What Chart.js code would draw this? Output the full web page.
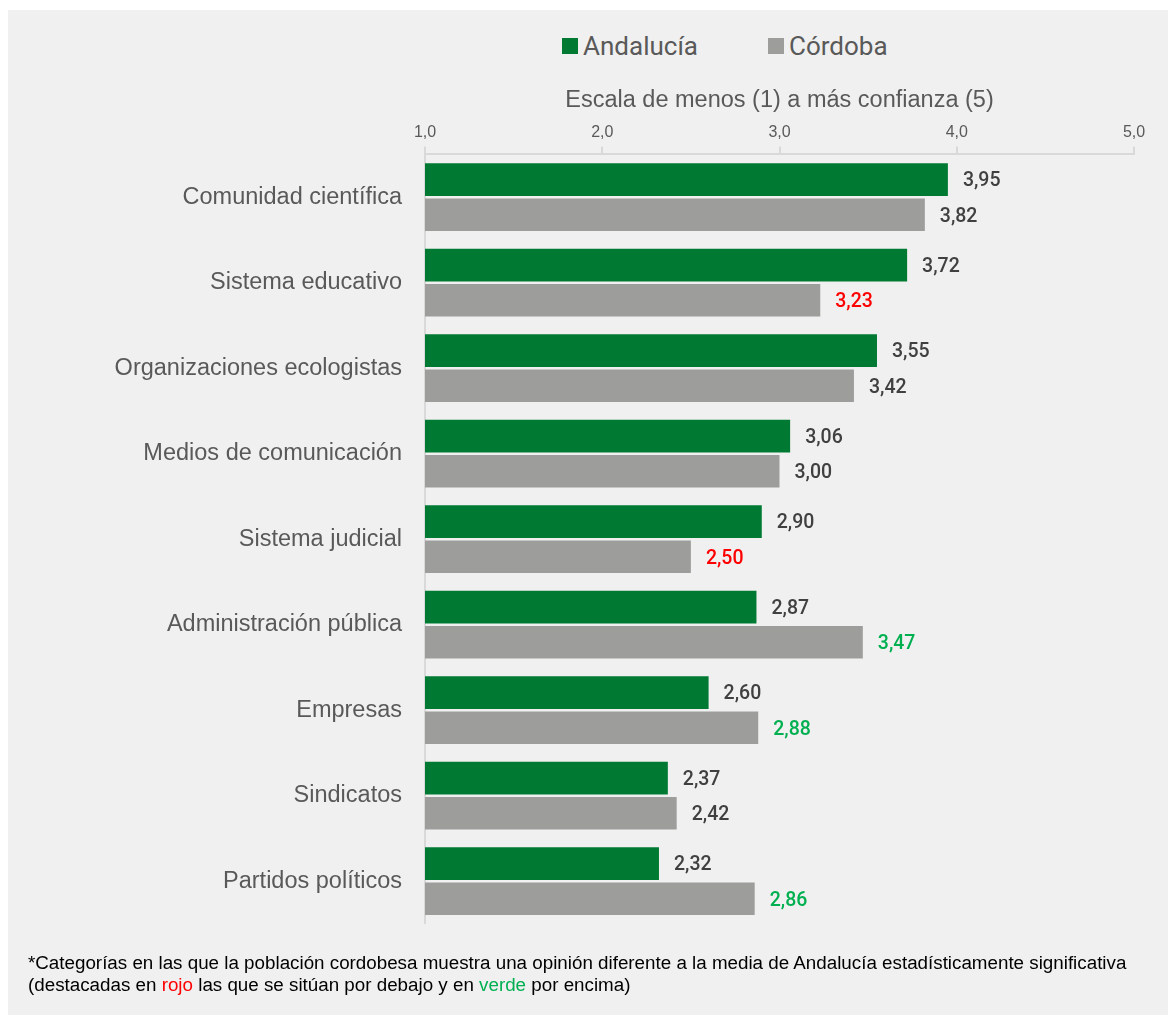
<!DOCTYPE html>
<html>
<head>
<meta charset="utf-8">
<script src="https://cdn.jsdelivr.net/npm/chart.js@4"></script>
<style>
  body { margin: 0; background: #fff; font-family: Roboto, sans-serif; }
  #panel { position: absolute; left: 8px; top: 10px; width: 1160px; height: 1005px; background: #f0f0f0; }
  #chartBox { position: absolute; left: 0; top: 0; width: 1160px; height: 943px; }
  .legend { position: absolute; top: 21px; left: 554px; display: flex; gap: 70px; font-size: 26px; color: #595959; }
  .legend-item { display: flex; align-items: center; }
  .legend-color { display: inline-block; width: 16px; height: 16px; margin-right: 5px; }
  .note { position: absolute; left: 20px; top: 942px; font-family: "Liberation Sans Narrow", sans-serif; font-size: 18.8px; line-height: 22px; color: #000; }
  .rojo { color: #ff0000; }
  .verde { color: #00b050; }
</style>
</head>
<body>
<div id="panel">
  <div class="legend" id="legend"></div>
  <div id="chartBox"><canvas id="trustChart"></canvas></div>
  <div class="note">*Categorías en las que la población cordobesa muestra una opinión diferente a la media de Andalucía estadísticamente significativa<br>(destacadas en <span class="rojo">rojo</span> las que se sitúan por debajo y en <span class="verde">verde</span> por encima)</div>
</div>
<script>
const categories = [
  'Comunidad científica', 'Sistema educativo', 'Organizaciones ecologistas',
  'Medios de comunicación', 'Sistema judicial', 'Administración pública',
  'Empresas', 'Sindicatos', 'Partidos políticos'
];
const seriesNames = ['Andalucía', 'Córdoba'];
const andalucia = [3.95, 3.72, 3.55, 3.06, 2.90, 2.87, 2.60, 2.37, 2.32];
const cordoba = [3.82, 3.23, 3.42, 3.00, 2.50, 3.47, 2.88, 2.42, 2.86];
// -1 = significativamente por debajo, 1 = por encima, 0 = sin diferencia
const cordobaSignif = [0, -1, 0, 0, -1, 1, 1, 0, 1];
const xTicks = [1, 2, 3, 4, 5];
const axisTitle = 'Escala de menos (1) a más confianza (5)';

const colors = ['#007a33', '#9d9d9b'];
const textColor = '#595959';

document.getElementById('legend').innerHTML = seriesNames.map((name, i) =>
  `<span class="legend-item"><span class="legend-color" style="background:${colors[i]};"></span>${name}</span>`
).join('');

const fmt = v => v.toFixed(2).replace('.', ',');

// value labels at the end of each bar
const valueLabels = {
  id: 'valueLabels',
  afterDatasetsDraw(chart) {
    const ctx = chart.ctx;
    ctx.save();
    ctx.font = '500 19.5px Roboto';
    ctx.textBaseline = 'middle';
    ctx.textAlign = 'left';
    chart.data.datasets.forEach((ds, di) => {
      chart.getDatasetMeta(di).data.forEach((bar, i) => {
        let c = '#404040';
        if (di === 1 && cordobaSignif[i] === -1) c = '#ff0000';
        if (di === 1 && cordobaSignif[i] === 1) c = '#00b050';
        ctx.fillStyle = c;
        ctx.fillText(fmt(ds.data[i]), bar.x + 15, bar.y + 2);
      });
    });
    ctx.restore();
  }
};

new Chart(document.getElementById('trustChart'), {
  type: 'bar',
  data: {
    labels: categories,
    datasets: [
      { label: seriesNames[0], data: andalucia, backgroundColor: colors[0] },
      { label: seriesNames[1], data: cordoba, backgroundColor: colors[1] }
    ]
  },
  options: {
    indexAxis: 'y',
    responsive: true,
    maintainAspectRatio: false,
    animation: false,
    categoryPercentage: 0.82,
    barPercentage: 0.93,
    layout: { padding: { top: 76, right: 34, bottom: 8, left: 0 } },
    plugins: {
      legend: { display: false },
      tooltip: { enabled: false }
    },
    scales: {
      x: {
        position: 'top',
        min: 1,
        max: 5,
        afterBuildTicks: axis => { axis.ticks = xTicks.map(v => ({ value: v })); },
        ticks: {
          color: textColor,
          font: { size: 16 },
          padding: 4,
          callback: v => v.toFixed(1).replace('.', ',')
        },
        grid: { drawOnChartArea: false, color: '#d9d9d9', tickLength: 8, lineWidth: 2 },
        border: { color: '#d9d9d9', width: 2 },
        title: {
          display: true,
          text: axisTitle,
          color: textColor,
          font: { size: 23.5 },
          padding: { top: 0, bottom: 5 }
        }
      },
      y: {
        afterFit: scale => { scale.width = 417; },
        ticks: { color: textColor, font: { size: 23.5 }, padding: 15 },
        grid: { display: false },
        border: { color: '#d9d9d9', width: 2 }
      }
    }
  },
  plugins: [valueLabels]
});
</script>
</body>
</html>
